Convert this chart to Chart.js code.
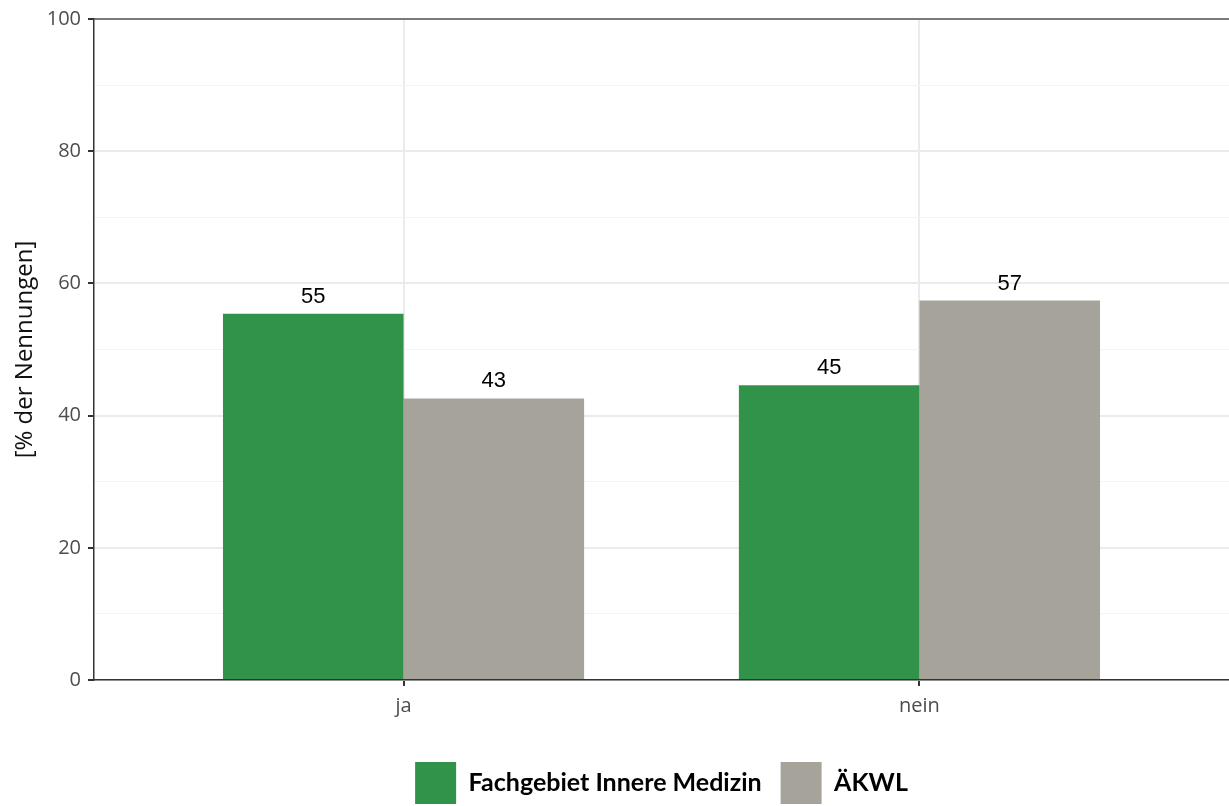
<!DOCTYPE html>
<html>
<head>
<meta charset="utf-8">
<script src="https://cdn.jsdelivr.net/npm/chart.js@4.4.1/dist/chart.umd.min.js"></script>
<style>
  html, body { margin: 0; padding: 0; background: #fff; }
  #wrap { width: 1229px; height: 806px; }
</style>
</head>
<body>
<div id="wrap"><canvas id="chart"></canvas></div>
<script>
// Data
const categories = ['ja', 'nein'];
const innereMedizin = [55.4, 44.6];
const aekwl = [42.6, 57.4];
const seriesNames = ['Fachgebiet Innere Medizin', 'ÄKWL'];
const yTicks = [0, 20, 40, 60, 80, 100];

const GREEN = '#319249';
const GREY = '#a6a39b';

// Value labels above the bars
const barLabels = {
    id: 'barLabels',
    afterDatasetsDraw(chart) {
        const ctx = chart.ctx;
        ctx.save();
        ctx.font = '22px "Liberation Sans", Arial, sans-serif';
        ctx.fillStyle = '#000';
        ctx.textAlign = 'center';
        ctx.textBaseline = 'alphabetic';
        chart.data.datasets.forEach((ds, i) => {
            chart.getDatasetMeta(i).data.forEach((bar, j) => {
                ctx.fillText(Math.round(ds.data[j].y), bar.x, bar.y - 11);
            });
        });
        ctx.restore();
    }
};

// Top border of the panel
const panelTop = {
    id: 'panelTop',
    afterDraw(chart) {
        const a = chart.chartArea;
        const ctx = chart.ctx;
        ctx.save();
        ctx.strokeStyle = '#555';
        ctx.lineWidth = 1.5;
        ctx.beginPath();
        ctx.moveTo(a.left, a.top);
        ctx.lineTo(a.right, a.top);
        ctx.stroke();
        ctx.restore();
    }
};

new Chart(document.getElementById('chart'), {
    type: 'bar',
    data: {
        datasets: [
            {
                label: seriesNames[0],
                data: innereMedizin.map((v, i) => ({ x: i + 1, y: v })),
                backgroundColor: GREEN
            },
            {
                label: seriesNames[1],
                data: aekwl.map((v, i) => ({ x: i + 1, y: v })),
                backgroundColor: GREY
            }
        ]
    },
    options: {
        responsive: true,
        maintainAspectRatio: false,
        animation: false,
        categoryPercentage: 0.7,
        barPercentage: 1.0,
        layout: { padding: { top: 18, right: 0, left: 0, bottom: -8 } },
        plugins: {
            legend: {
                position: 'bottom',
                fullSize: false,
                labels: {
                    boxWidth: 41,
                    boxHeight: 42,
                    padding: 19,
                    color: '#000',
                    font: { family: 'Lato, sans-serif', size: 25, weight: 'bold' }
                }
            },
            tooltip: { enabled: false }
        },
        scales: {
            x: {
                type: 'linear',
                offset: false,
                min: 0.4,
                max: 2.6,
                afterBuildTicks(scale) {
                    scale.ticks = categories.map((c, i) => ({ value: i + 1 }));
                },
                afterFit(scale) { scale.height = 63; },
                ticks: {
                    callback: (v) => categories[v - 1],
                    color: '#4d4d4d',
                    padding: 8,
                    font: { family: '"Open Sans", sans-serif', size: 20 }
                },
                grid: {
                    offset: false,
                    color: '#ebebeb',
                    lineWidth: 2,
                    tickColor: '#333',
                    tickWidth: 2,
                    tickLength: 6
                },
                border: { display: true, color: '#333', width: 1.5 }
            },
            y: {
                min: 0,
                max: 100,
                afterBuildTicks(scale) {
                    const t = [];
                    for (let v = 0; v <= 100; v += 10) t.push({ value: v });
                    scale.ticks = t;
                },
                afterFit(scale) { scale.width = 94; },
                ticks: {
                    callback: (v) => (yTicks.includes(v) ? v : ''),
                    color: '#4d4d4d',
                    padding: 7,
                    font: { family: '"Open Sans", sans-serif', size: 20 }
                },
                grid: {
                    color: (c) => (c.tick && c.tick.value % 20 === 0 ? '#ebebeb' : '#f3f3f3'),
                    lineWidth: (c) => (c.tick && c.tick.value % 20 === 0 ? 2 : 1),
                    tickColor: (c) => (c.tick && c.tick.value % 20 === 0 ? '#333' : 'rgba(0,0,0,0)'),
                    tickWidth: 2,
                    tickLength: 6
                },
                border: { display: true, color: '#333', width: 1.5 },
                title: {
                    display: true,
                    text: '[% der Nennungen]',
                    color: '#111',
                    padding: { top: 11, bottom: 0 },
                    font: { family: '"Open Sans", sans-serif', size: 24 }
                }
            }
        }
    },
    plugins: [barLabels, panelTop]
});
</script>
</body>
</html>
